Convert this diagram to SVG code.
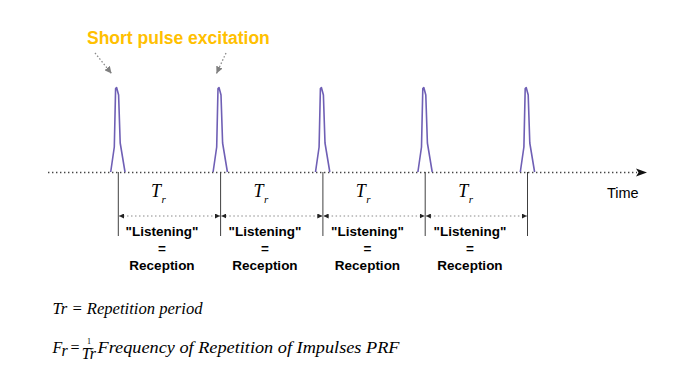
<svg xmlns="http://www.w3.org/2000/svg" width="675" height="368" viewBox="0 0 675 368">
<style>
.lbl{font-family:"Liberation Sans",Arial,sans-serif;font-weight:bold;font-size:13.5px;fill:#000;text-anchor:middle}
.tr{font-family:"Liberation Serif","Times New Roman",serif;font-style:italic;fill:#000}
.math{font-family:"Liberation Serif","Times New Roman",serif;font-style:italic;font-size:16px;fill:#000}
.pulse{fill:none;stroke:#6F5FB5;stroke-width:1.6;stroke-linejoin:round}
.vline{stroke:#404040;stroke-width:1}
.span{stroke:#8a8a8a;stroke-width:1;stroke-dasharray:1.5 2.5;fill:none}
.ptr{stroke:#8a8a8a;stroke-width:1.3;stroke-dasharray:1.5 2;fill:none}
</style>
<defs>
<marker id="ah" viewBox="0 0 10 10" refX="10" refY="5" markerWidth="5" markerHeight="5" orient="auto-start-reverse" markerUnits="userSpaceOnUse">
<path d="M0,0 L10,5 L0,10 Z" fill="#222"/>
</marker>
<marker id="ahg" viewBox="0 0 10 10" refX="10" refY="5" markerWidth="7" markerHeight="7" orient="auto" markerUnits="userSpaceOnUse">
<path d="M0,0 L10,5 L0,10 Z" fill="#7f7f7f"/>
</marker>
<path id="pulse" class="pulse" d="M110.7,172 L114.3,147 L115.6,88.5 L116.6,87.5 L118.6,95 L120.2,143 L125,172"/>
</defs>
<rect width="675" height="368" fill="#fff"/>

<g id="title">
<text x="87" y="43.5" font-family="'Liberation Sans',Arial,sans-serif" font-weight="bold" font-size="17.5" fill="#FFC000">Short pulse excitation</text>
</g>

<g id="connectors">
<line x1="48" y1="172.5" x2="637" y2="172.5" stroke="#444" stroke-width="1.4" stroke-dasharray="1.4 2.6"/>
<path d="M636,168.5 L647,172.5 L636,176.5 L638.5,172.5 Z" fill="#111"/>
<line class="ptr" x1="95" y1="53" x2="111.5" y2="73.5" marker-end="url(#ahg)"/>
<line class="ptr" x1="226" y1="53" x2="216.5" y2="73.5" marker-end="url(#ahg)"/>
<line class="vline" x1="118.3" y1="172" x2="118.3" y2="236"/>
<line class="vline" x1="220.6" y1="172" x2="220.6" y2="236"/>
<line class="vline" x1="322.9" y1="172" x2="322.9" y2="236"/>
<line class="vline" x1="425.2" y1="172" x2="425.2" y2="236"/>
<line class="vline" x1="527.5" y1="172" x2="527.5" y2="236"/>
<line class="span" x1="119" y1="216" x2="220" y2="216" marker-start="url(#ah)" marker-end="url(#ah)"/>
<line class="span" x1="221.3" y1="216" x2="322.3" y2="216" marker-start="url(#ah)" marker-end="url(#ah)"/>
<line class="span" x1="323.6" y1="216" x2="424.6" y2="216" marker-start="url(#ah)" marker-end="url(#ah)"/>
<line class="span" x1="425.9" y1="216" x2="526.9" y2="216" marker-start="url(#ah)" marker-end="url(#ah)"/>
</g>

<g id="pulses">
<use href="#pulse"/>
<use href="#pulse" transform="translate(102.4,0)"/>
<use href="#pulse" transform="translate(204.8,0)"/>
<use href="#pulse" transform="translate(307.2,0)"/>
<use href="#pulse" transform="translate(409.6,0)"/>
</g>

<g id="time-label">
<text x="607" y="198" font-family="'Liberation Sans',Arial,sans-serif" font-size="14.5" fill="#000">Time</text>
</g>

<g id="period-1">
<text class="tr" x="151" y="197" font-size="18">T</text><text class="tr" x="161.5" y="203" font-size="11">r</text>
<text class="lbl" x="162" y="236">"Listening"</text>
<text class="lbl" x="162" y="253">=</text>
<text class="lbl" x="162" y="270">Reception</text>
</g>
<g id="period-2">
<text class="tr" x="253.4" y="197" font-size="18">T</text><text class="tr" x="263.9" y="203" font-size="11">r</text>
<text class="lbl" x="265" y="236">"Listening"</text>
<text class="lbl" x="265" y="253">=</text>
<text class="lbl" x="265" y="270">Reception</text>
</g>
<g id="period-3">
<text class="tr" x="355.8" y="197" font-size="18">T</text><text class="tr" x="366.3" y="203" font-size="11">r</text>
<text class="lbl" x="367.5" y="236">"Listening"</text>
<text class="lbl" x="367.5" y="253">=</text>
<text class="lbl" x="367.5" y="270">Reception</text>
</g>
<g id="period-4">
<text class="tr" x="458.2" y="197" font-size="18">T</text><text class="tr" x="468.7" y="203" font-size="11">r</text>
<text class="lbl" x="470" y="236">"Listening"</text>
<text class="lbl" x="470" y="253">=</text>
<text class="lbl" x="470" y="270">Reception</text>
</g>

<g id="formula-1">
<text class="math" x="52.5" y="314" textLength="150" lengthAdjust="spacingAndGlyphs">Tr = Repetition period</text>
</g>
<g id="formula-2">
<text class="math" x="52.5" y="353">F</text>
<text class="math" x="61.5" y="355.5" font-size="10">r</text>
<text x="70.5" y="353" font-family="'Liberation Serif','Times New Roman',serif" font-size="16" fill="#000">=</text>
<text x="89" y="344" font-family="'Liberation Serif','Times New Roman',serif" font-size="8" fill="#000" text-anchor="middle">1</text>
<line x1="84.5" y1="348.6" x2="93.5" y2="348.6" stroke="#000" stroke-width="0.8"/>
<text class="math" x="88.8" y="358.5" font-size="8" text-anchor="middle">Tr</text>
<text class="math" x="97.5" y="353" textLength="302" lengthAdjust="spacingAndGlyphs">Frequency of Repetition of Impulses PRF</text>
</g>
</svg>
